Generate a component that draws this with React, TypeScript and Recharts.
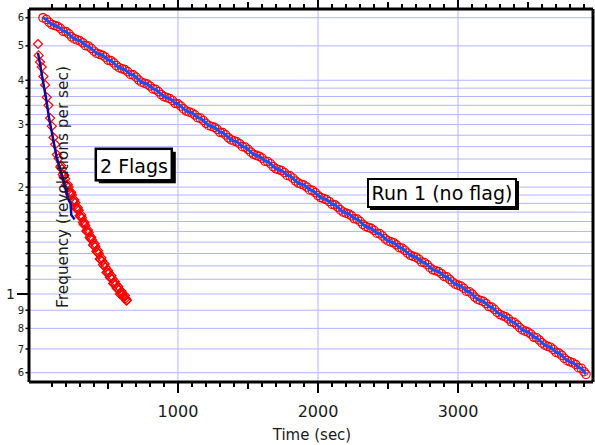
import React from 'react';
import { ComposedChart, XAxis, YAxis, Line, Area, CartesianGrid } from 'recharts';

// Run 1 (no flag): time (s) and frequency (rev/s)
const runTimes = [
  36, 60, 80, 100, 120, 140, 160, 180, 200, 220, 240, 260, 280, 300, 320, 340, 360, 380, 400, 420,
  440, 460, 480, 500, 520, 540, 560, 580, 600, 620, 640, 660, 680, 700, 720, 740, 760, 780, 800, 820,
  840, 860, 880, 900, 920, 940, 960, 980, 1000, 1020, 1040, 1060, 1080, 1100, 1120, 1140, 1160, 1180, 1200, 1220,
  1240, 1260, 1280, 1300, 1320, 1340, 1360, 1380, 1400, 1420, 1440, 1460, 1480, 1500, 1520, 1540, 1560, 1580, 1600, 1620,
  1640, 1660, 1680, 1700, 1720, 1740, 1760, 1780, 1800, 1820, 1840, 1860, 1880, 1900, 1920, 1940, 1960, 1980, 2000, 2020,
  2040, 2060, 2080, 2100, 2120, 2140, 2160, 2180, 2200, 2220, 2240, 2260, 2280, 2300, 2320, 2340, 2360, 2380, 2400, 2420,
  2440, 2460, 2480, 2500, 2520, 2540, 2560, 2580, 2600, 2620, 2640, 2660, 2680, 2700, 2720, 2740, 2760, 2780, 2800, 2820,
  2840, 2860, 2880, 2900, 2920, 2940, 2960, 2980, 3000, 3020, 3040, 3060, 3080, 3100, 3120, 3140, 3160, 3180, 3200, 3220,
  3240, 3260, 3280, 3300, 3320, 3340, 3360, 3380, 3400, 3420, 3440, 3460, 3480, 3500, 3520, 3540, 3560, 3580, 3600, 3620,
  3640, 3660, 3680, 3700, 3720, 3740, 3760, 3780, 3800, 3820, 3840, 3860, 3880, 3900, 3914,
];
const runFreq = [
  6.0, 5.933, 5.823, 5.743, 5.705, 5.673, 5.601, 5.497, 5.483, 5.403, 5.303, 5.23, 5.196, 5.166, 5.101, 5.007, 4.993, 4.92, 4.83, 4.764,
  4.732, 4.705, 4.646, 4.559, 4.547, 4.48, 4.398, 4.339, 4.31, 4.285, 4.231, 4.153, 4.142, 4.081, 4.005, 3.95, 3.924, 3.901, 3.853, 3.782,
  3.771, 3.716, 3.647, 3.597, 3.574, 3.554, 3.509, 3.444, 3.434, 3.384, 3.322, 3.276, 3.255, 3.236, 3.196, 3.137, 3.128, 3.082, 3.025, 2.984,
  2.964, 2.947, 2.91, 2.855, 2.848, 2.806, 2.755, 2.718, 2.699, 2.683, 2.65, 2.6, 2.593, 2.556, 2.509, 2.474, 2.458, 2.443, 2.413, 2.368,
  2.362, 2.328, 2.285, 2.253, 2.239, 2.226, 2.198, 2.158, 2.151, 2.119, 2.081, 2.053, 2.038, 2.026, 2.001, 1.964, 1.959, 1.93, 1.894, 1.869,
  1.856, 1.845, 1.822, 1.789, 1.784, 1.757, 1.725, 1.702, 1.69, 1.68, 1.66, 1.629, 1.625, 1.601, 1.571, 1.55, 1.539, 1.531, 1.511, 1.483,
  1.479, 1.457, 1.43, 1.411, 1.402, 1.394, 1.376, 1.351, 1.347, 1.327, 1.303, 1.285, 1.277, 1.269, 1.253, 1.23, 1.226, 1.209, 1.186, 1.17,
  1.163, 1.156, 1.142, 1.121, 1.117, 1.1, 1.081, 1.066, 1.059, 1.052, 1.038, 1.018, 1.015, 1.0, 0.98, 0.966, 0.959, 0.953, 0.94, 0.922,
  0.918, 0.905, 0.887, 0.875, 0.868, 0.862, 0.851, 0.835, 0.832, 0.819, 0.804, 0.792, 0.786, 0.781, 0.771, 0.756, 0.753, 0.742, 0.728, 0.718,
  0.712, 0.708, 0.698, 0.685, 0.682, 0.672, 0.659, 0.649, 0.644, 0.64, 0.633, 0.62, 0.618, 0.604, 0.594,
];

// 2 Flags run
const flagTimes = [
  0, 5, 15, 27, 39, 51, 63, 75, 87, 99, 111, 123, 135, 147, 159, 165, 171, 177, 183, 189,
  195, 201, 207, 213, 219, 225, 231, 237, 243, 249, 255, 261, 267, 273, 279, 285, 291, 297, 303, 309,
  315, 321, 327, 333, 339, 345, 351, 357, 363, 369, 375, 381, 387, 393, 399, 405, 411, 417, 423, 429,
  435, 441, 447, 453, 459, 465, 471, 477, 483, 489, 495, 501, 507, 513, 519, 525, 531, 537, 543, 549,
  555, 561, 567, 573, 579, 585, 591, 597, 603, 609, 615, 621, 627, 632, 636,
];
const flagFreq = [
  5.06, 4.7, 4.5, 4.36, 4.1, 3.88, 3.58, 3.4, 3.13, 2.97, 2.76, 2.64, 2.47, 2.41, 2.28, 2.3, 2.25, 2.17, 2.14, 2.16,
  2.11, 2.03, 2.01, 2.035, 2.0, 1.935, 1.91, 1.935, 1.9, 1.83, 1.82, 1.84, 1.81, 1.75, 1.73, 1.75, 1.72, 1.66, 1.65, 1.67,
  1.64, 1.59, 1.57, 1.59, 1.56, 1.505, 1.5, 1.515, 1.49, 1.445, 1.43, 1.445, 1.42, 1.375, 1.37, 1.385, 1.36, 1.32, 1.31, 1.325,
  1.3, 1.255, 1.25, 1.265, 1.24, 1.21, 1.2, 1.215, 1.19, 1.15, 1.15, 1.165, 1.145, 1.115, 1.11, 1.125, 1.105, 1.07, 1.07, 1.085,
  1.065, 1.04, 1.035, 1.05, 1.03, 1.0, 1.005, 1.018, 1.0, 0.98, 0.978, 0.99, 0.972, 0.957, 0.96,
];

// dark blue trace over the start of the 2 Flags run
const flagLineTimes = [0, 14, 38, 60, 78, 110, 133, 157, 190, 214, 233, 238, 262];
const flagLineFreq = [4.77, 4.47, 3.93, 3.52, 3.15, 2.71, 2.43, 2.26, 2.03, 1.86, 1.8, 1.67, 1.62];

const yGridValues = [
  0.6, 0.7, 0.8, 0.9, 1, 1.1, 1.2, 1.3, 1.4, 1.5, 1.6, 1.7, 1.8, 1.9, 2, 2.2, 2.4, 2.6, 2.8, 3, 3.2, 3.4, 3.6, 3.8, 4, 5, 6,
];
const yLabelValues = [0.6, 0.7, 0.8, 0.9, 1, 2, 3, 4, 5, 6];
const yLabelTexts = ['6', '7', '8', '9', '1', '2', '3', '4', '5', '6'];

const xTickValues = [
  100, 200, 300, 400, 500, 600, 700, 800, 900, 1000, 1100, 1200, 1300, 1400, 1500, 1600, 1700, 1800, 1900, 2000,
  2100, 2200, 2300, 2400, 2500, 2600, 2700, 2800, 2900, 3000, 3100, 3200, 3300, 3400, 3500, 3600, 3700, 3800, 3900,
];
const xGridValues = [1000, 2000, 3000];
const xLabelValues = [1000, 2000, 3000];
const xLabelTexts = ['1000', '2000', '3000'];

const run1 = runTimes.map((t, i) => ({ t, f: runFreq[i] }));
const flags = flagTimes.map((t, i) => ({ t, f: flagFreq[i] }));
const flagLine = flagLineTimes.map((t, i) => ({ t, f: flagLineFreq[i] }));

const X_DOMAIN: [number, number] = [-64, 3964];
const Y_DOMAIN: [number, number] = [0.565, 6.35];
const FONT = '"DejaVu Sans", Verdana, sans-serif';

const XTickBottom = (props: any) => {
  const { x, y, payload } = props;
  const v = payload.value;
  const len = v % 1000 === 0 ? 11 : v % 500 === 0 ? 7 : 5;
  const idx = xLabelValues.indexOf(v);
  return (
    <g>
      <line x1={x} x2={x} y1={y} y2={y + len} stroke="#000" strokeWidth={2} />
      {idx >= 0 && (
        <text x={x} y={y + 35} textAnchor="middle" fontSize={16} fill="#1a1a1a" fontFamily={FONT}>
          {xLabelTexts[idx]}
        </text>
      )}
    </g>
  );
};

const XTickTop = (props: any) => {
  const { x, y, payload } = props;
  const v = payload.value;
  const len = v % 1000 === 0 ? 9 : v % 500 === 0 ? 7 : 5;
  return <line x1={x} x2={x} y1={y} y2={y - len} stroke="#000" strokeWidth={2} />;
};

const YTick = (props: any) => {
  const { x, y, payload } = props;
  const v = payload.value;
  const idx = yLabelValues.indexOf(v);
  const one = v === 1;
  return (
    <g>
      <line x1={one ? x - 12 : x - 3.5} x2={x} y1={y} y2={y} stroke="#000" strokeWidth={one ? 2 : 1.5} />
      {idx >= 0 && (
        <text
          x={one ? x - 14 : x - 5}
          y={y + (one ? 5 : 3.6)}
          textAnchor="end"
          fontSize={one ? 14 : 10}
          fill="#1a1a1a"
          fontFamily={FONT}
        >
          {yLabelTexts[idx]}
        </text>
      )}
    </g>
  );
};

const RedCircle = (p: any) => (
  <circle key={p.key} cx={p.cx} cy={p.cy} r={4.2} fill="none" stroke="#ff0000" strokeWidth={1.2} />
);

const RedDiamond = (p: any) => (
  <path
    key={p.key}
    d={`M${p.cx},${p.cy - 4.5}L${p.cx + 4.5},${p.cy}L${p.cx},${p.cy + 4.5}L${p.cx - 4.5},${p.cy}Z`}
    fill="none"
    stroke="#ff0000"
    strokeWidth={1.2}
  />
);

export default function App() {
  return (
    <div style={{ position: 'absolute', left: 0, top: 0, width: 595, height: 445, background: '#fff', fontFamily: FONT }}>
      <ComposedChart width={595} height={445} margin={{ top: 0, right: 0, bottom: 0, left: 0 }}>
        <CartesianGrid
          stroke="#b4b4ff"
          strokeWidth={1}
          horizontalValues={yGridValues}
          verticalValues={xGridValues}
        />
        <XAxis
          dataKey="t"
          type="number"
          domain={X_DOMAIN}
          allowDataOverflow
          ticks={xTickValues}
          interval={0}
          height={63}
          tickSize={0}
          tickMargin={0}
          tickLine={false}
          tick={<XTickBottom />}
          axisLine={{ stroke: '#000', strokeWidth: 3 }}
        />
        <XAxis
          xAxisId="top"
          orientation="top"
          dataKey="t"
          type="number"
          domain={X_DOMAIN}
          allowDataOverflow
          ticks={xTickValues}
          interval={0}
          height={9}
          tickSize={0}
          tickMargin={0}
          tickLine={false}
          tick={<XTickTop />}
          axisLine={{ stroke: '#000', strokeWidth: 3 }}
        />
        <YAxis
          dataKey="f"
          type="number"
          scale="log"
          domain={Y_DOMAIN}
          allowDataOverflow
          ticks={yGridValues}
          interval={0}
          width={29}
          tickSize={0}
          tickMargin={0}
          tickLine={false}
          tick={<YTick />}
          axisLine={{ stroke: '#000', strokeWidth: 3 }}
        />
        <YAxis
          yAxisId="r"
          orientation="right"
          type="number"
          scale="log"
          domain={Y_DOMAIN}
          allowDataOverflow
          width={2}
          tick={false}
          tickLine={false}
          axisLine={{ stroke: '#000', strokeWidth: 3 }}
        />
        {/* red markers sit in the area layer, the blue traces are drawn over them */}
        <Area
          data={run1}
          dataKey="f"
          type="linear"
          stroke="none"
          fill="none"
          dot={<RedCircle />}
          activeDot={false}
          isAnimationActive={false}
          zIndex={150}
        />
        <Area
          data={flags}
          dataKey="f"
          type="linear"
          stroke="none"
          fill="none"
          dot={<RedDiamond />}
          activeDot={false}
          isAnimationActive={false}
          zIndex={150}
        />
        <Line
          data={run1}
          dataKey="f"
          type="linear"
          stroke="#1452ff"
          strokeWidth={3}
          dot={false}
          activeDot={false}
          isAnimationActive={false}
          zIndex={700}
        />
        <Line
          data={flagLine}
          dataKey="f"
          type="linear"
          stroke="#0a0a9c"
          strokeWidth={2.5}
          dot={false}
          activeDot={false}
          isAnimationActive={false}
          zIndex={700}
        />
      </ComposedChart>
      <svg width={595} height={445} style={{ position: 'absolute', left: 0, top: 0, pointerEvents: 'none' }}>
        <text
          transform="rotate(-90)"
          x={-187}
          y={68}
          textAnchor="middle"
          fontSize={15.3}
          fill="#1a1a1a"
          fontFamily={FONT}
        >
          Frequency (revolutions per sec)
        </text>
        <text x={312} y={440} textAnchor="middle" fontSize={15} fill="#1a1a1a" fontFamily={FONT}>
          Time (sec)
        </text>
        <rect x={98.8} y={151.8} width={77} height={31.5} fill="#000" />
        <rect x={95.8} y={148.8} width={76} height={31.5} fill="#fff" stroke="#000" strokeWidth={2.5} />
        <text x={134} y={173} textAnchor="middle" fontSize={19} fill="#000" fontFamily={FONT}>
          2 Flags
        </text>
        <rect x={370} y={181} width={149} height={29} fill="#000" />
        <rect x={368} y={179} width={148} height={28} fill="#fff" stroke="#000" strokeWidth={2} />
        <text x={442} y={200} textAnchor="middle" fontSize={19} fill="#000" fontFamily={FONT}>
          Run 1 (no flag)
        </text>
      </svg>
    </div>
  );
}
